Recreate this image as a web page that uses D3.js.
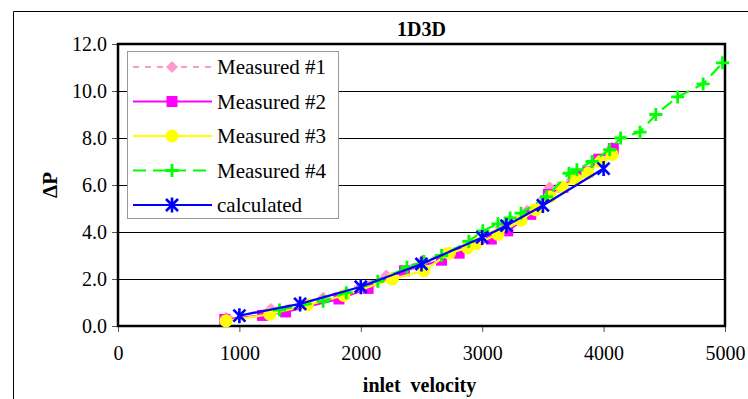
<!DOCTYPE html>
<html>
<head>
<meta charset="utf-8">
<script src="https://cdn.jsdelivr.net/npm/d3@7"></script>
<style>
body { margin: 0; background: #fff; }
</style>
</head>
<body>
<div id="main"></div>
<script>
const ctx = {
    w: 748,
    h: 399,
    left: 118,
    right: 725,
    top: 44,
    bottom: 326,
    FONT: "'Liberation Serif', 'Times New Roman', serif",
};

const TITLE = "1D3D";
const X_LABEL = "inlet  velocity";
const Y_LABEL = "\u0394P";
const X_TICKS = [0, 1000, 2000, 3000, 4000, 5000];
const Y_TICKS = [0, 2, 4, 6, 8, 10, 12];

// [velocity, dP]
const measured1 = [[890,0.35],[1260,0.72],[1690,1.2],[2210,2.15],[2510,2.8],[2700,3.1],[2900,3.5],
                   [3150,4.2],[3370,4.9],[3555,5.9],[3750,6.3],[3950,7.0],[4070,7.6]];
const measured2 = [[880,0.28],[1190,0.45],[1380,0.6],[1820,1.15],[2060,1.6],[2360,2.35],[2665,2.8],
                   [2810,3.1],[3075,3.7],[3210,4.05],[3400,4.75],[3545,5.6],[3665,5.9],[3775,6.4],
                   [3870,6.55],[3960,7.1],[4080,7.55]];
const measured3 = [[890,0.22],[1250,0.5],[1560,0.9],[1860,1.3],[2260,2.0],[2520,2.35],[2730,3.1],
                   [2880,3.33],[2950,3.5],[3130,3.9],[3320,4.5],[3440,4.95],[3560,5.5],[3660,5.9],
                   [3770,6.25],[3870,6.5],[3975,7.0],[4070,7.3]];
const measured4 = [[1330,0.68],[1690,1.05],[1880,1.42],[2140,1.9],[2380,2.5],[2520,2.75],[2665,3.0],
                   [2890,3.6],[3005,4.05],[3130,4.35],[3230,4.6],[3320,4.8],[3530,5.5],[3715,6.5],
                   [3780,6.65],[3905,7.0],[4050,7.5],[4140,8.0],[4300,8.25],[4430,9.0],[4610,9.75],
                   [4820,10.3],[4980,11.2]];
const calculated = [[1000,0.44],[1500,0.94],[2000,1.67],[2500,2.64],[3000,3.77],[3200,4.27],
                    [3500,5.13],[4000,6.7]];

const series = [
    {name: "Measured #1", data: measured1, color: "#ff99cc", dash: "6,6", marker: "diamond"},
    {name: "Measured #2", data: measured2, color: "#ff00ff", dash: null, marker: "square"},
    {name: "Measured #3", data: measured3, color: "#ffff00", dash: null, marker: "circle"},
    {name: "Measured #4", data: measured4, color: "#00ff00", dash: "13,7", marker: "plus"},
    {name: "calculated", data: calculated, color: "#0000ff", dash: null, marker: "star"},
];

const x = d3.scaleLinear().domain([0, 5000]).range([ctx.left, ctx.right]);
const y = d3.scaleLinear().domain([0, 12]).range([ctx.bottom, ctx.top]);

function drawMarker(g, type, color){
    if (type === "diamond"){
        g.append("path").attr("d", "M0,-6L6,0L0,6L-6,0Z").attr("fill", color);
    } else if (type === "square"){
        g.append("rect").attr("x", -5.5).attr("y", -5.5).attr("width", 11).attr("height", 11).attr("fill", color);
    } else if (type === "circle"){
        g.append("circle").attr("r", 6.5).attr("fill", color);
    } else if (type === "plus"){
        g.append("path").attr("d", "M-6.5,0H6.5M0,-6.5V6.5").attr("stroke", color).attr("stroke-width", 2.8);
    } else if (type === "star"){
        g.append("path").attr("d", "M-6,-6L6,6M-6,6L6,-6M0,-7.5V7.5")
         .attr("stroke", color).attr("stroke-width", 2.6);
    }
}

function createViz(){
    let svg = d3.select("#main").append("svg")
                .attr("width", ctx.w)
                .attr("height", ctx.h)
                .attr("font-family", ctx.FONT);

    // outer chart frame (only top and left visible)
    svg.append("path")
       .attr("d", `M13.5,${ctx.h}V11.5H${ctx.w}`)
       .attr("fill", "none").attr("stroke", "#000").attr("stroke-width", 1);

    // gridlines
    svg.append("g")
       .selectAll("line")
       .data(Y_TICKS.filter(d => d > 0 && d < 12))
       .enter()
       .append("line")
       .attr("x1", ctx.left).attr("x2", ctx.right)
       .attr("y1", d => Math.round(y(d)) + 0.5).attr("y2", d => Math.round(y(d)) + 0.5)
       .attr("stroke", "#000").attr("stroke-width", 1);

    // axes
    let xAxis = svg.append("g")
       .attr("transform", `translate(0,${ctx.bottom})`)
       .call(d3.axisBottom(x).tickValues(X_TICKS).tickSize(6).tickPadding(14).tickFormat(d3.format("d")));
    let yAxis = svg.append("g")
       .attr("transform", `translate(${ctx.left},0)`)
       .call(d3.axisLeft(y).tickValues(Y_TICKS).tickSize(6).tickPadding(5).tickFormat(d3.format(".1f")));
    [xAxis, yAxis].forEach(function(a){
        a.attr("font-family", ctx.FONT).attr("font-size", 20);
        a.select(".domain").remove();
        a.selectAll(".tick line").attr("stroke", "#555");
        a.selectAll("text").attr("fill", "#000");
    });

    // plot border
    svg.append("rect")
       .attr("x", ctx.left).attr("y", ctx.top)
       .attr("width", ctx.right - ctx.left).attr("height", ctx.bottom - ctx.top)
       .attr("fill", "none").attr("stroke", "#000").attr("stroke-width", 2.5);

    // series
    let line = d3.line().x(d => x(d[0])).y(d => y(d[1]));
    series.forEach(function(s){
        let g = svg.append("g").attr("class", "series");
        g.append("path")
         .datum(s.data)
         .attr("d", line)
         .attr("fill", "none")
         .attr("stroke", s.color)
         .attr("stroke-width", 2.2)
         .attr("stroke-dasharray", s.dash);
        g.selectAll("g.pt")
         .data(s.data)
         .enter()
         .append("g")
         .attr("class", "pt")
         .attr("transform", d => `translate(${x(d[0])},${y(d[1])})`)
         .each(function(){ drawMarker(d3.select(this), s.marker, s.color); });
    });

    // legend
    let lg = svg.append("g").attr("transform", "translate(127,51)");
    lg.append("rect")
      .attr("x", 0.5).attr("y", 0.5).attr("width", 211).attr("height", 167)
      .attr("fill", "#fff").attr("stroke", "#999").attr("stroke-width", 1);
    series.forEach(function(s, i){
        let yy = 16 + i * 34.5;
        lg.append("line")
          .attr("x1", 6).attr("x2", 85).attr("y1", yy).attr("y2", yy)
          .attr("stroke", s.color).attr("stroke-width", 2.2)
          .attr("stroke-dasharray", s.dash);
        let m = lg.append("g").attr("transform", `translate(45,${yy})`);
        drawMarker(m, s.marker, s.color);
        lg.append("text")
          .attr("x", 90).attr("y", yy).attr("dy", "0.35em")
          .attr("font-size", 21)
          .text(s.name);
    });

    // titles
    svg.append("text")
       .attr("x", (ctx.left + ctx.right) / 2).attr("y", 36)
       .attr("text-anchor", "middle").attr("font-size", 20).attr("font-weight", "bold")
       .text(TITLE);
    svg.append("text")
       .attr("x", (ctx.left + ctx.right) / 2 - 2).attr("y", 392)
       .attr("text-anchor", "middle").attr("font-size", 20).attr("font-weight", "bold")
       .style("white-space", "pre")
       .text(X_LABEL);
    svg.append("text")
       .attr("transform", `translate(50,${(ctx.top + ctx.bottom) / 2}) rotate(-90)`)
       .attr("text-anchor", "middle").attr("dy", "0.35em")
       .attr("font-size", 21).attr("font-weight", "bold")
       .text(Y_LABEL);
}

createViz();
</script>
</body>
</html>
